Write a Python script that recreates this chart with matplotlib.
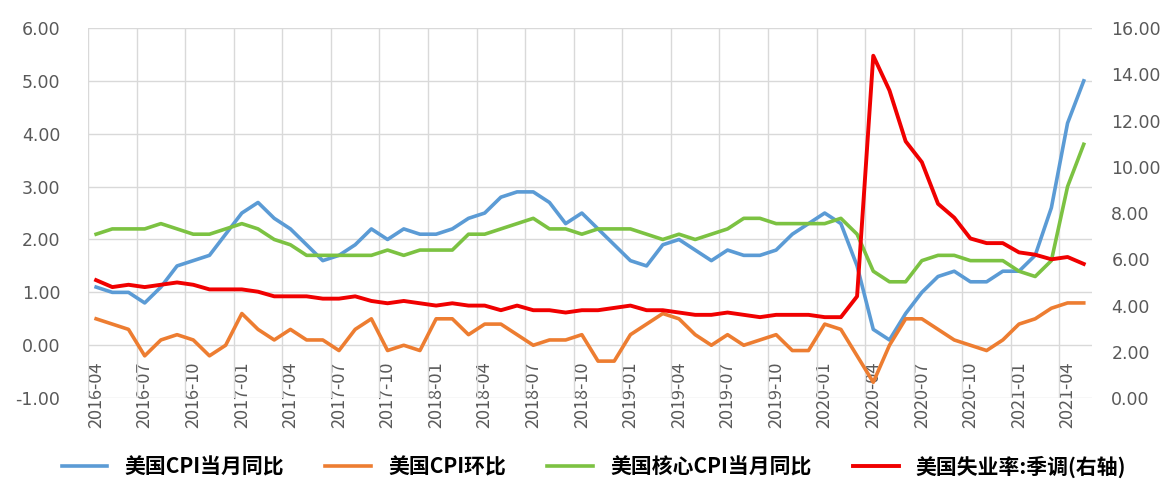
import numpy as np
import pandas as pd
import matplotlib
matplotlib.use('Agg')
import matplotlib.pyplot as plt

plt.rcParams['font.family'] = ['Noto Sans CJK SC', 'DejaVu Sans']

# monthly data, 2016-04 .. 2021-05
months = pd.period_range('2016-04', '2021-05', freq='M').strftime('%Y-%m').tolist()

cpi_yoy = [1.1, 1.0, 1.0, 0.8, 1.1, 1.5, 1.6, 1.7, 2.1,
           2.5, 2.7, 2.4, 2.2, 1.9, 1.6, 1.7, 1.9, 2.2, 2.0, 2.2, 2.1,
           2.1, 2.2, 2.4, 2.5, 2.8, 2.9, 2.9, 2.7, 2.3, 2.5, 2.2, 1.9,
           1.6, 1.5, 1.9, 2.0, 1.8, 1.6, 1.8, 1.7, 1.7, 1.8, 2.1, 2.3,
           2.5, 2.3, 1.5, 0.3, 0.1, 0.6, 1.0, 1.3, 1.4, 1.2, 1.2, 1.4,
           1.4, 1.7, 2.6, 4.2, 5.0]

cpi_mom = [0.5, 0.4, 0.3, -0.2, 0.1, 0.2, 0.1, -0.2, 0.0,
           0.6, 0.3, 0.1, 0.3, 0.1, 0.1, -0.1, 0.3, 0.5, -0.1, 0.0, -0.1,
           0.5, 0.5, 0.2, 0.4, 0.4, 0.2, 0.0, 0.1, 0.1, 0.2, -0.3, -0.3,
           0.2, 0.4, 0.6, 0.5, 0.2, 0.0, 0.2, 0.0, 0.1, 0.2, -0.1, -0.1,
           0.4, 0.3, -0.2, -0.7, 0.0, 0.5, 0.5, 0.3, 0.1, 0.0, -0.1, 0.1,
           0.4, 0.5, 0.7, 0.8, 0.8]

core_yoy = [2.1, 2.2, 2.2, 2.2, 2.3, 2.2, 2.1, 2.1, 2.2,
            2.3, 2.2, 2.0, 1.9, 1.7, 1.7, 1.7, 1.7, 1.7, 1.8, 1.7, 1.8,
            1.8, 1.8, 2.1, 2.1, 2.2, 2.3, 2.4, 2.2, 2.2, 2.1, 2.2, 2.2,
            2.2, 2.1, 2.0, 2.1, 2.0, 2.1, 2.2, 2.4, 2.4, 2.3, 2.3, 2.3,
            2.3, 2.4, 2.1, 1.4, 1.2, 1.2, 1.6, 1.7, 1.7, 1.6, 1.6, 1.6,
            1.4, 1.3, 1.6, 3.0, 3.8]

unemp = [5.1, 4.8, 4.9, 4.8, 4.9, 5.0, 4.9, 4.7, 4.7,
         4.7, 4.6, 4.4, 4.4, 4.4, 4.3, 4.3, 4.4, 4.2, 4.1, 4.2, 4.1,
         4.0, 4.1, 4.0, 4.0, 3.8, 4.0, 3.8, 3.8, 3.7, 3.8, 3.8, 3.9,
         4.0, 3.8, 3.8, 3.7, 3.6, 3.6, 3.7, 3.6, 3.5, 3.6, 3.6, 3.6,
         3.5, 3.5, 4.4, 14.8, 13.3, 11.1, 10.2, 8.4, 7.8, 6.9, 6.7, 6.7,
         6.3, 6.2, 6.0, 6.1, 5.8]

names = ['美国CPI当月同比', '美国CPI环比', '美国核心CPI当月同比', '美国失业率:季调(右轴)']
colors = ['#5B9BD5', '#ED7D31', '#7CC242', '#F00000']

x = np.arange(len(months))
grey = '#595959'

fig = plt.figure(figsize=(11.69, 4.82), dpi=100)
ax = fig.add_axes([0.0753, 0.174, 0.8587, 0.768])
ax2 = ax.twinx()

l1, = ax.plot(x, cpi_yoy, color=colors[0], lw=2.6, zorder=3)
l2, = ax.plot(x, cpi_mom, color=colors[1], lw=2.6, zorder=3)
l3, = ax.plot(x, core_yoy, color=colors[2], lw=2.6, zorder=3)
l4, = ax2.plot(x, unemp, color=colors[3], lw=2.8, zorder=4)

ax.set_xlim(-0.5, len(months) - 0.5)
ax.set_ylim(-1, 6)
ax2.set_ylim(0, 16)

ax.set_yticks(np.arange(-1, 7, 1))
ax.set_yticklabels(['%.2f' % v for v in np.arange(-1, 7, 1)], family='DejaVu Sans')
ax2.set_yticks(np.arange(0, 18, 2))
ax2.set_yticklabels(['%.2f' % v for v in np.arange(0, 18, 2)], family='DejaVu Sans')

ax.set_xticks(np.arange(-0.5, len(months), 3), minor=True)
ax.set_xticks(x[::3])
ax.set_xticklabels(months[::3], rotation=90, va='top', ha='center', family='DejaVu Sans')

ax.grid(axis='y', color='#D9D9D9', lw=1)
ax.grid(axis='x', which='minor', color='#D9D9D9', lw=1)
ax.set_axisbelow(True)

# category axis crosses at 0
ax.spines['bottom'].set_position(('data', 0))
for a in (ax, ax2):
    for s in a.spines.values():
        s.set_visible(False)

ax.tick_params(axis='x', which='both', length=0, pad=12, labelsize=13,
               labelcolor=grey, labelrotation=90)
ax.tick_params(axis='y', length=0, pad=20, labelsize=12.5, labelcolor=grey)
ax2.tick_params(axis='y', length=0, pad=14, labelsize=12.5, labelcolor=grey)

fig.legend([l1, l2, l3, l4], names, loc='center', bbox_to_anchor=(0.508, 0.032),
           ncol=4, frameon=False, handlelength=2.2, columnspacing=2.0,
           prop={'size': 15, 'weight': 'bold'})

fig.savefig('out.png', dpi=100)
